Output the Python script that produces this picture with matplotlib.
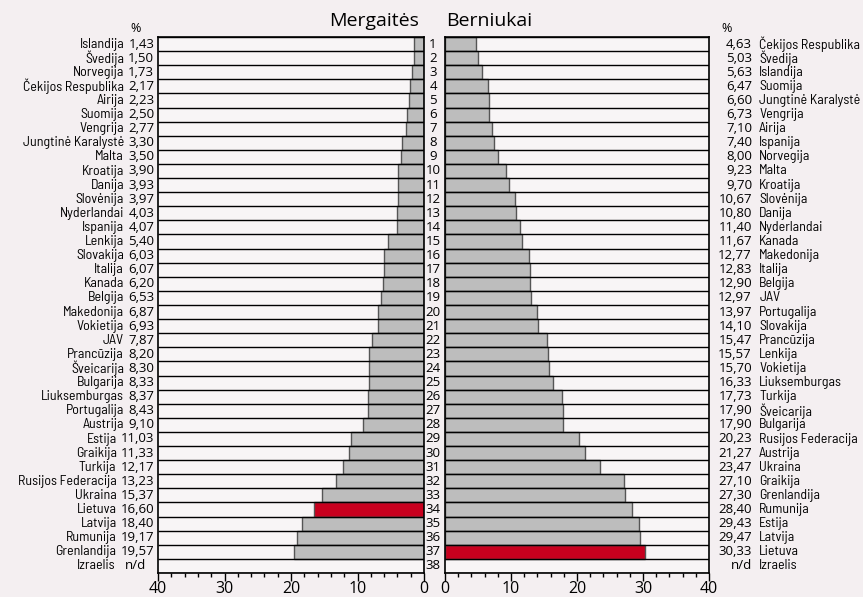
import matplotlib
matplotlib.use("Agg")
import matplotlib.pyplot as plt
from matplotlib.ticker import MultipleLocator

plt.rcParams['font.family'] = ['Barlow Semi Condensed', 'Liberation Sans', 'DejaVu Sans']

# girls (left side), ranked 1..38
girls_names = ["Islandija", "Švedija", "Norvegija", "Čekijos Respublika", "Airija",
               "Suomija", "Vengrija", "Jungtinė Karalystė", "Malta", "Kroatija",
               "Danija", "Slovėnija", "Nyderlandai", "Ispanija", "Lenkija",
               "Slovakija", "Italija", "Kanada", "Belgija", "Makedonija",
               "Vokietija", "JAV", "Prancūzija", "Šveicarija", "Bulgarija",
               "Liuksemburgas", "Portugalija", "Austrija", "Estija", "Graikija",
               "Turkija", "Rusijos Federacija", "Ukraina", "Lietuva", "Latvija",
               "Rumunija", "Grenlandija", "Izraelis"]
girls_vals = [1.43, 1.50, 1.73, 2.17, 2.23, 2.50, 2.77, 3.30, 3.50, 3.90,
              3.93, 3.97, 4.03, 4.07, 5.40, 6.03, 6.07, 6.20, 6.53, 6.87,
              6.93, 7.87, 8.20, 8.30, 8.33, 8.37, 8.43, 9.10, 11.03, 11.33,
              12.17, 13.23, 15.37, 16.60, 18.40, 19.17, 19.57, None]

# boys (right side), ranked 1..38
boys_names = ["Čekijos Respublika", "Švedija", "Islandija", "Suomija", "Jungtinė Karalystė",
              "Vengrija", "Airija", "Ispanija", "Norvegija", "Malta",
              "Kroatija", "Slovėnija", "Danija", "Nyderlandai", "Kanada",
              "Makedonija", "Italija", "Belgija", "JAV", "Portugalija",
              "Slovakija", "Prancūzija", "Lenkija", "Vokietija", "Liuksemburgas",
              "Turkija", "Šveicarija", "Bulgarija", "Rusijos Federacija", "Austrija",
              "Ukraina", "Graikija", "Grenlandija", "Rumunija", "Estija",
              "Latvija", "Lietuva", "Izraelis"]
boys_vals = [4.63, 5.03, 5.63, 6.47, 6.60, 6.73, 7.10, 7.40, 8.00, 9.23,
             9.70, 10.67, 10.80, 11.40, 11.67, 12.77, 12.83, 12.90, 12.97, 13.97,
             14.10, 15.47, 15.57, 15.70, 16.33, 17.73, 17.90, 17.90, 20.23, 21.27,
             23.47, 27.10, 27.30, 28.40, 29.43, 29.47, 30.33, None]

highlight = "Lietuva"
bg = "#f4eff1"
cell = "#f8f5f6"
gray = "#bdbdbd"
red = "#c8001e"
num_font = ["Open Sans", "DejaVu Sans"]

W, H = 863, 597
fig = plt.figure(figsize=(W / 100, H / 100), dpi=100, facecolor=bg)
top, bottom = 37, 573
axl = fig.add_axes([158 / W, 1 - bottom / H, 266 / W, (bottom - top) / H])
axr = fig.add_axes([445 / W, 1 - bottom / H, 264 / W, (bottom - top) / H])

n = len(girls_names)


def fmt(v):
    return "n/d" if v is None else f"{v:.2f}".replace(".", ",")


for ax, names, vals in [(axl, girls_names, girls_vals), (axr, boys_names, boys_vals)]:
    ax.set_facecolor(cell)
    for i, (nm, v) in enumerate(zip(names, vals)):
        if v is None:
            continue
        ax.barh(i, v, height=1.0, color=red if nm == highlight else gray,
                edgecolor="#555555", linewidth=1.0, zorder=2)
    ax.hlines([k - 0.5 for k in range(n + 1)], 0, 40, color="black", lw=1.0, zorder=3)
    ax.set_xlim(0, 40)
    ax.set_ylim(n - 0.5, -0.5)
    ax.set_yticks([])
    ax.xaxis.set_major_locator(MultipleLocator(10))
    ax.xaxis.set_minor_locator(MultipleLocator(2))
    ax.tick_params(axis="x", which="major", length=6, width=1, labelsize=11.5, pad=0)
    ax.tick_params(axis="x", which="minor", length=3, width=1)
    for lab in ax.get_xticklabels():
        lab.set_family(num_font)
    for s in ax.spines.values():
        s.set_linewidth(1.2)

axl.invert_xaxis()

fs = 10
nfs = 9.5
# labels on left side: value right-aligned, name placed just before the value
yt = axl.get_yaxis_transform()
for i, (nm, v) in enumerate(zip(girls_names, girls_vals)):
    val_x = -0.045 if v is None else -0.014
    gap = -7 if v is None else -3
    vt = axl.text(val_x, i, fmt(v), transform=yt, ha="right", va="center", fontsize=nfs,
                  family=num_font, clip_on=False)
    axl.annotate(nm, xy=(0, 0.5), xycoords=vt, xytext=(gap, 0), textcoords="offset points",
                 ha="right", va="center", fontsize=fs)
    axl.text(1.034, i, str(i + 1), transform=yt, ha="center", va="center",
             fontsize=nfs, family=num_font, clip_on=False)

# labels on right side
yt = axr.get_yaxis_transform()
for i, (nm, v) in enumerate(zip(boys_names, boys_vals)):
    axr.text(1.163, i, fmt(v), transform=yt, ha="right", va="center", fontsize=nfs,
             family=num_font, clip_on=False)
    axr.text(1.19, i, nm, transform=yt, ha="left", va="center", fontsize=fs, clip_on=False)

fig.text(136 / W, 1 - 29 / H, "%", ha="center", va="center", fontsize=9, family=num_font)
fig.text(727 / W, 1 - 29 / H, "%", ha="center", va="center", fontsize=9, family=num_font)
fig.text(419 / W, 1 - 21 / H, "Mergaitės", ha="right", va="center", fontsize=14,
         family=num_font)
fig.text(446 / W, 1 - 21 / H, "Berniukai", ha="left", va="center", fontsize=14,
         family=num_font)

fig.savefig("out.png", dpi=100, facecolor=bg)
